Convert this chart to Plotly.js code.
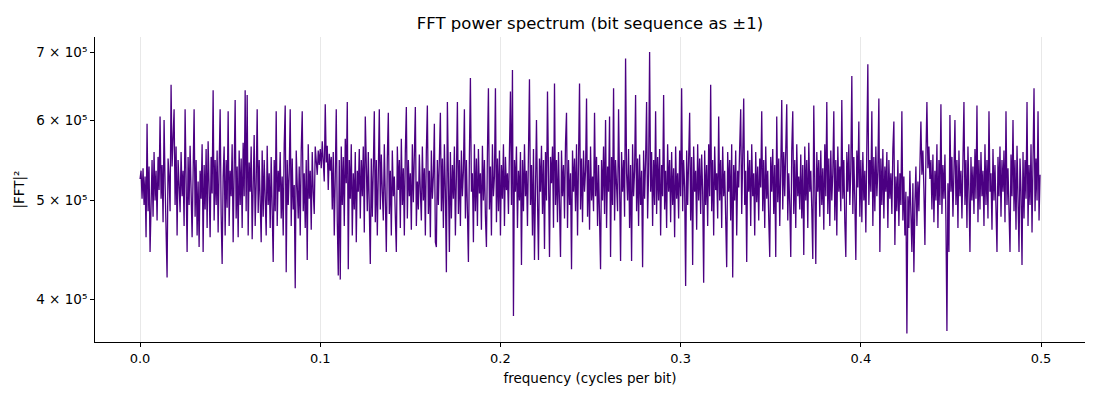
<!DOCTYPE html>
<html>
<head>
<meta charset="utf-8">
<script src="https://cdn.plot.ly/plotly-3.0.1.min.js"></script>
<style>
  html, body { margin: 0; padding: 0; background: #fff; }
  #plot { width: 1100px; height: 400px; }
</style>
</head>
<body>
<div id="plot"></div>
<script>
// power values, in thousands (x1000 gives |FFT|^2)
const powerK = [
  525,535,502,538,495,528,460,595,488,540,445,518,548,482,558,500,535,478,552,512,
  605,502,542,476,600,520,470,420,550,528,488,650,540,568,615,495,565,462,548,518,
  487,558,505,535,472,615,520,445,552,495,566,510,460,532,615,482,548,462,522,450,
  535,502,568,445,542,490,562,470,572,515,460,552,508,642,478,548,495,560,465,540,
  615,485,433,528,565,462,548,492,612,472,535,505,568,455,558,628,480,540,460,560,
  495,550,470,570,505,642,488,635,462,545,510,565,458,532,580,472,520,615,486,548,
  500,455,560,482,548,508,462,566,495,532,470,552,502,435,548,488,612,472,535,510,
  558,480,528,462,568,620,425,548,495,532,615,472,550,490,518,410,560,505,480,540,
  462,560,612,488,532,470,548,437,568,502,535,468,558,510,485,565,548,530,560,542,
  562,538,572,550,522,622,545,566,512,556,535,552,490,558,462,528,615,478,422,548,
  418,565,495,552,472,575,520,625,428,548,502,568,462,532,490,558,455,535,510,562,
  480,548,505,565,465,605,528,488,558,500,433,550,482,538,612,476,548,462,532,615,
  490,555,510,478,568,502,445,550,610,485,535,462,560,505,528,482,445,565,512,548,
  470,575,495,538,462,560,618,480,548,505,532,468,568,498,548,618,472,522,490,555,
  510,478,565,500,538,462,560,620,485,535,460,560,502,528,595,455,450,548,495,565,
  610,488,550,470,568,510,425,625,495,445,558,480,542,502,565,462,528,625,485,548,
  472,560,505,535,615,480,548,495,435,555,660,510,532,455,568,488,550,472,562,508,
  532,468,566,500,548,482,450,558,645,490,540,462,568,505,528,645,476,550,488,560,
  462,542,502,568,472,552,512,532,485,560,640,495,672,385,548,510,565,470,535,500,
  558,432,548,488,568,505,535,472,552,658,495,542,462,562,437,548,600,502,437,550,
  510,566,485,548,448,558,500,640,480,440,552,520,565,470,652,495,548,476,558,502,
  440,560,505,542,480,570,610,470,548,495,532,428,560,510,550,488,568,462,535,652,
  490,550,476,560,510,535,630,482,548,468,565,500,528,488,610,505,552,472,542,495,
  428,548,500,565,485,600,470,540,510,605,440,552,495,645,478,548,520,488,615,502,
  436,558,510,548,482,690,532,500,562,470,542,436,568,505,535,635,488,550,472,555,
  495,535,430,560,502,548,625,480,532,700,510,558,472,548,495,612,485,552,500,562,
  462,542,505,635,490,535,470,568,510,548,476,558,495,538,460,565,502,532,480,560,
  505,645,488,548,515,412,560,495,540,610,478,552,432,565,510,535,468,568,500,550,
  485,555,510,415,560,495,542,472,568,505,650,488,548,462,565,512,532,480,605,500,
  548,470,565,505,535,485,430,558,510,548,478,568,420,542,500,560,462,535,515,565,
  615,485,548,630,495,535,435,560,510,548,472,568,505,532,462,558,498,540,478,550,
  515,612,488,548,470,565,502,535,480,440,552,510,562,485,542,440,605,498,550,472,
  535,628,490,558,505,548,622,478,532,495,440,560,612,485,548,470,568,505,528,490,
  555,480,542,442,565,500,548,470,570,510,535,490,438,620,495,433,558,510,548,482,
  560,495,538,468,568,505,625,485,550,472,560,500,532,612,478,548,462,565,510,540,
  488,628,502,548,476,440,558,510,568,495,538,663,485,552,500,437,560,515,598,482,
  548,476,558,500,535,465,568,681,495,548,510,612,472,552,488,565,505,535,630,445,
  550,495,562,480,540,510,558,470,548,502,532,485,562,598,452,528,488,548,472,532,
  495,612,478,528,462,510,370,505,470,535,485,445,520,425,495,540,472,522,488,548,
  598,530,560,512,452,552,625,538,565,525,548,490,555,476,535,500,568,470,548,495,
  622,485,542,502,555,478,372,520,445,607,510,552,482,535,600,495,548,470,560,505,
  535,480,555,625,495,548,470,565,510,445,552,500,540,485,562,502,620,476,548,490,
  558,505,535,472,568,495,548,480,612,510,532,468,562,500,542,488,445,552,505,565,
  482,548,510,560,476,612,495,538,472,445,555,505,600,488,548,468,566,502,445,550,
  510,432,558,480,548,502,625,472,542,495,568,465,535,645,488,550,500,612,478,530
];

// rfft bins k/N for a sequence of N = 2 * powerK.length bits
const freq = powerK.map((_, k) => k / (2 * powerK.length));
const power = powerK.map(v => v * 1000);

const xTickVals = [0, 0.1, 0.2, 0.3, 0.4, 0.5];
const xTickText = ['0.0', '0.1', '0.2', '0.3', '0.4', '0.5'];
const yTickVals = [4e5, 5e5, 6e5, 7e5];
const yTickText = ['4 × 10⁵', '5 × 10⁵', '6 × 10⁵', '7 × 10⁵'];

const spectrum = {
  type: 'scatter',
  mode: 'lines',
  x: freq,
  y: power,
  line: { color: '#4b0082', width: 1.3 },
  hoverinfo: 'skip'
};

const layout = {
  width: 1100,
  height: 400,
  margin: { l: 95, r: 15, t: 37, b: 58 },
  paper_bgcolor: '#fff',
  plot_bgcolor: '#fff',
  font: { family: 'DejaVu Sans', size: 13, color: '#000' },
  showlegend: false,
  title: {
    text: 'FFT power spectrum (bit sequence as ±1)',
    font: { size: 16.5, color: '#000' },
    x: 0.5, xref: 'paper', xanchor: 'center',
    y: 1 - 23 / 400, yref: 'container', yanchor: 'middle'
  },
  xaxis: {
    range: [-0.025, 0.5244],
    tickvals: xTickVals,
    ticktext: xTickText,
    tickfont: { size: 13 },
    ticks: 'outside', ticklen: 4, tickcolor: '#000',
    showline: true, linecolor: '#000', linewidth: 1,
    showgrid: true, gridcolor: '#e8e8e8', gridwidth: 1,
    zeroline: false,
    title: { text: 'frequency (cycles per bit)', font: { size: 13.5 }, standoff: 8 }
  },
  yaxis: {
    type: 'log',
    range: [5.5598, 5.8599],
    tickvals: yTickVals,
    ticktext: yTickText,
    tickfont: { size: 13.5 },
    ticks: 'outside', ticklen: 4, tickcolor: '#000',
    showline: true, linecolor: '#000', linewidth: 1,
    showgrid: false,
    zeroline: false,
    title: { text: '|FFT|²', font: { size: 13.5 }, standoff: 8 }
  }
};

Plotly.newPlot(document.getElementById('plot'), [spectrum], layout, {
  displayModeBar: false
});
</script>
</body>
</html>
